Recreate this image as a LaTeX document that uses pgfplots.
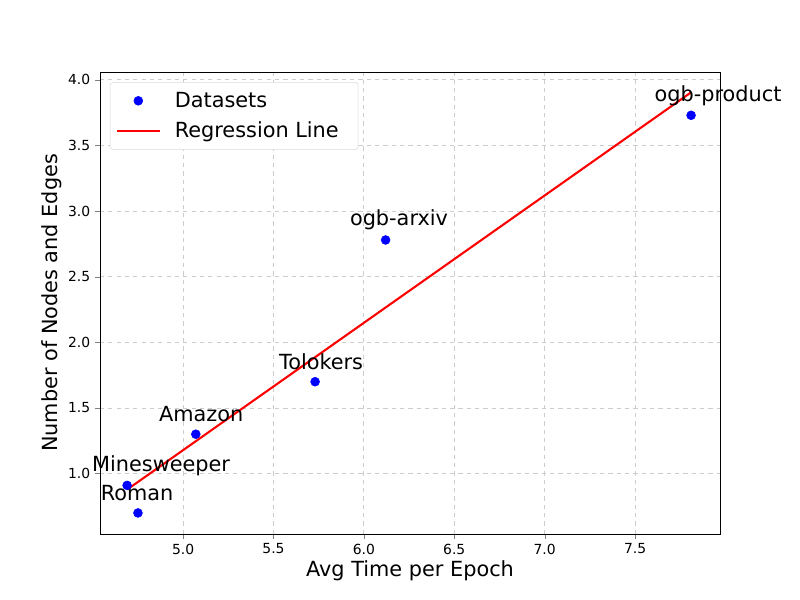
\documentclass[border=0pt]{standalone}
\usepackage{fontspec}
\setmainfont{DejaVu Sans}
\usepackage{pgfplots}
\pgfplotsset{compat=1.18}
\usetikzlibrary{calc}

\pgfplotsset{
    dotlegend/.style={legend image code/.code={%
        \draw[mark repeat=2,mark phase=2,##1] plot coordinates {(0pt,0pt) (15.5pt,0pt) (31pt,0pt)};}},
    linelegend/.style={legend image code/.code={%
        \draw[##1] (0pt,0pt) -- (31pt,0pt);}},
}

\begin{document}
\begin{tikzpicture}
\begin{axis}[
    scale only axis,
    width=446.4pt, height=332.6pt,
    xmin=4.54, xmax=7.97,
    ymin=0.54, ymax=4.06,
    xtick={5.0,5.5,6.0,6.5,7.0,7.5},
    ytick={1.0,1.5,2.0,2.5,3.0,3.5,4.0},
    xticklabel style={/pgf/number format/.cd, fixed, fixed zerofill, precision=1},
    yticklabel style={/pgf/number format/.cd, fixed, fixed zerofill, precision=1},
    /pgf/number format/assume math mode=true,
    tick label style={font=\fontsize{10}{12}\selectfont},
    tick align=outside,
    tick pos=left,
    major tick length=3.5pt,
    grid=major,
    grid style={dashed, color=black!20, line width=0.6pt},
    xlabel={Avg Time per Epoch},
    ylabel={Number of Nodes and Edges},
    label style={font=\fontsize{15}{18}\selectfont},
    xlabel style={yshift=2pt},
    ylabel style={yshift=-2pt},
    legend style={font=\fontsize{15}{18}\selectfont, draw=black!15, rounded corners=2pt,
        at={(0.016,0.978)}, anchor=north west, inner xsep=4pt, inner ysep=5pt, row sep=5pt,
        nodes={inner xsep=10pt}},
    legend cell align=left,
    clip=false,
]
\addplot[only marks, mark=*, mark size=3.2pt, color=blue, dotlegend] coordinates {
    (4.69,0.91) (4.75,0.70) (5.07,1.30) (5.73,1.70) (6.12,2.78) (7.81,3.73)
};
\addlegendentry{Datasets}
\addplot[red, line width=1.5pt, linelegend] coordinates {
    (4.69,0.878) (7.81,3.905)
};
\addlegendentry{Regression Line}

\node[font=\fontsize{15}{18}\selectfont] at (axis cs:4.878,1.061) {Minesweeper};
\node[font=\fontsize{15}{18}\selectfont] at (axis cs:4.745,0.855) {Roman};
\node[font=\fontsize{15}{18}\selectfont] at (axis cs:5.10,1.457) {Amazon};
\node[font=\fontsize{15}{18}\selectfont] at (axis cs:5.763,1.854) {Tolokers};
\node[font=\fontsize{15}{18}\selectfont] at (axis cs:6.194,2.931) {ogb-arxiv};
\node[font=\fontsize{15}{18}\selectfont] at (axis cs:7.959,3.878) {ogb-product};
\end{axis}
\path ($(current axis.south west)+(-72pt,-47.52pt)$) rectangle ($(current axis.north east)+(57.6pt,51.84pt)$);
\end{tikzpicture}
\end{document}
